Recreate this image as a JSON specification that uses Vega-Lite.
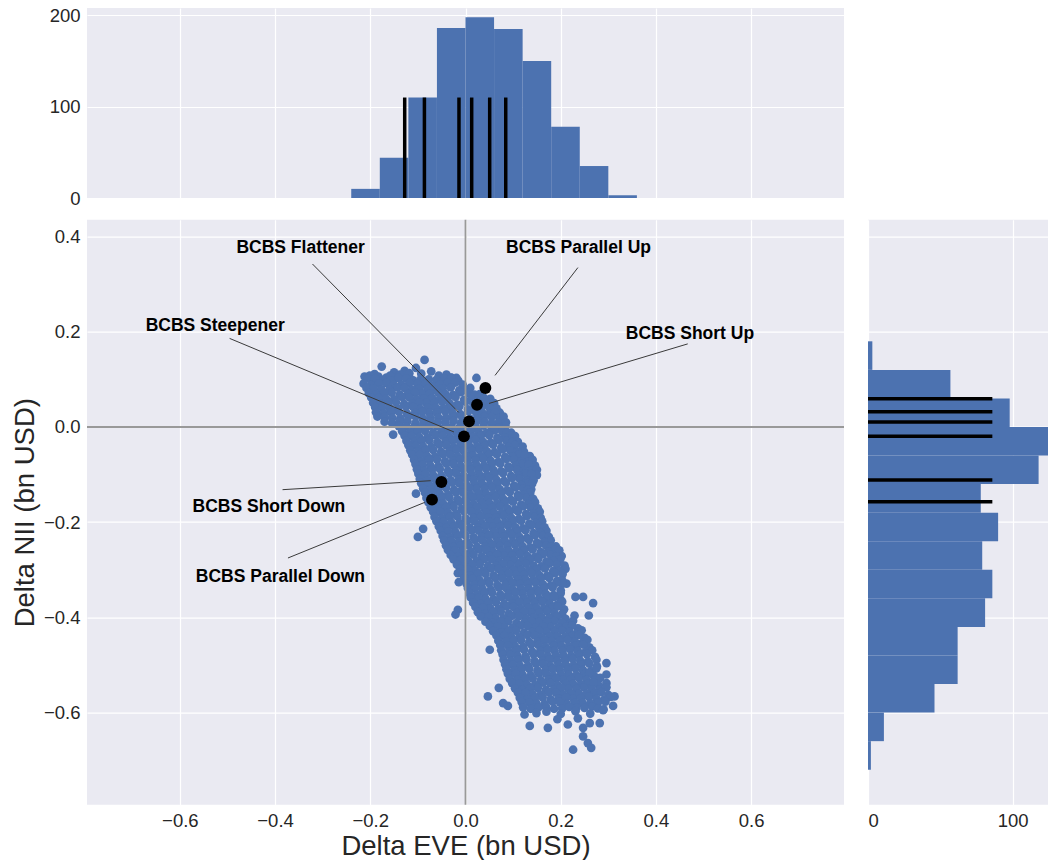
{
  "$schema": "https://vega.github.io/schema/vega-lite/v6.json",
  "background": "white",
  "padding": {"left": 11, "top": 6, "right": 0, "bottom": 0},
  "config": {
    "view": {"fill": "#EAEAF2", "stroke": null},
    "axis": {
      "domain": false,
      "ticks": false,
      "grid": true,
      "gridColor": "#ffffff",
      "gridWidth": 1.2,
      "labelFont": "Liberation Sans",
      "labelFontSize": 18.5,
      "labelColor": "#262626",
      "labelPadding": 7,
      "titleFont": "Liberation Sans",
      "titleFontSize": 27.5,
      "titleFontWeight": "normal",
      "titleColor": "#262626"
    }
  },
  "datasets": {
    "eveBins": [
      {"start": -0.24, "end": -0.18, "count": 10},
      {"start": -0.18, "end": -0.12, "count": 44},
      {"start": -0.12, "end": -0.06, "count": 110},
      {"start": -0.06, "end": 0.0, "count": 186},
      {"start": 0.0, "end": 0.06, "count": 198},
      {"start": 0.06, "end": 0.12, "count": 185},
      {"start": 0.12, "end": 0.18, "count": 150},
      {"start": 0.18, "end": 0.24, "count": 78},
      {"start": 0.24, "end": 0.30, "count": 35},
      {"start": 0.30, "end": 0.36, "count": 3}
    ],
    "niiBins": [
      {"start": 0.12, "end": 0.18, "count": 3},
      {"start": 0.06, "end": 0.12, "count": 57},
      {"start": 0.0, "end": 0.06, "count": 98},
      {"start": -0.06, "end": 0.0, "count": 128},
      {"start": -0.12, "end": -0.06, "count": 118},
      {"start": -0.18, "end": -0.12, "count": 78},
      {"start": -0.24, "end": -0.18, "count": 90},
      {"start": -0.30, "end": -0.24, "count": 79},
      {"start": -0.36, "end": -0.30, "count": 86},
      {"start": -0.42, "end": -0.36, "count": 81},
      {"start": -0.48, "end": -0.42, "count": 62},
      {"start": -0.54, "end": -0.48, "count": 62},
      {"start": -0.60, "end": -0.54, "count": 46},
      {"start": -0.66, "end": -0.60, "count": 11},
      {"start": -0.72, "end": -0.66, "count": 2}
    ],
    "zero": [{"origin": 0}],
    "scenarios": [
      {"name": "BCBS Parallel Up", "eve": 0.0418, "nii": 0.0819, "hist_eve": 0.0845, "hist_nii": 0.0595, "label_eve": 0.2374, "label_nii": 0.3664, "line_eve": 0.2361, "line_nii": 0.3349, "tip_eve": 0.0620, "tip_nii": 0.1084},
      {"name": "BCBS Short Up", "eve": 0.0242, "nii": 0.0468, "hist_eve": 0.0508, "hist_nii": 0.0321, "label_eve": 0.4714, "label_nii": 0.1847, "line_eve": 0.4668, "line_nii": 0.1746, "tip_eve": 0.0494, "tip_nii": 0.0495},
      {"name": "BCBS Flattener", "eve": 0.0074, "nii": 0.0118, "hist_eve": 0.0130, "hist_nii": 0.0105, "label_eve": -0.3464, "label_nii": 0.3664, "line_eve": -0.3214, "line_nii": 0.3424, "tip_eve": -0.0143, "tip_nii": 0.0307},
      {"name": "BCBS Steepener", "eve": -0.0032, "nii": -0.0197, "hist_eve": -0.0137, "hist_nii": -0.0197, "label_eve": -0.5258, "label_nii": 0.2011, "line_eve": -0.4954, "line_nii": 0.1861, "tip_eve": -0.0242, "tip_nii": -0.0105},
      {"name": "BCBS Short Down", "eve": -0.0506, "nii": -0.1155, "hist_eve": -0.0863, "hist_nii": -0.1113, "label_eve": -0.4130, "label_nii": -0.1794, "line_eve": -0.3843, "line_nii": -0.1317, "tip_eve": -0.0731, "tip_nii": -0.1128},
      {"name": "BCBS Parallel Down", "eve": -0.0704, "nii": -0.1527, "hist_eve": -0.1277, "hist_nii": -0.1569, "label_eve": -0.3887, "label_nii": -0.3256, "line_eve": -0.3729, "line_nii": -0.2752, "tip_eve": -0.0857, "tip_nii": -0.1584}
    ],
    "sims": [
      {"eve":-0.212,"nii":0.106},{"eve":-0.191,"nii":0.111},{"eve":-0.176,"nii":0.127},{"eve":-0.166,"nii":0.104},{"eve":-0.149,"nii":0.101},{"eve":-0.150,"nii":0.115},{"eve":-0.128,"nii":0.118},{"eve":-0.117,"nii":0.103},{"eve":-0.104,"nii":0.124},{"eve":-0.086,"nii":0.141},{"eve":-0.072,"nii":0.117},{"eve":-0.040,"nii":0.110},{"eve":-0.019,"nii":0.103},{"eve":0.023,"nii":0.103},
      {"eve":-0.201,"nii":0.108},{"eve":-0.183,"nii":0.106},{"eve":-0.158,"nii":0.108},{"eve":-0.138,"nii":0.110},{"eve":-0.093,"nii":0.112},{"eve":-0.056,"nii":0.108},{"eve":-0.030,"nii":0.104},{"eve":-0.118,"nii":0.113},
      {"eve":-0.205,"nii":0.102},{"eve":-0.174,"nii":0.099},{"eve":-0.140,"nii":0.103},{"eve":-0.110,"nii":0.098},{"eve":-0.077,"nii":0.100},{"eve":-0.045,"nii":0.101},{"eve":-0.015,"nii":0.097},
      {"eve":-0.190,"nii":0.101},{"eve":-0.157,"nii":0.098},{"eve":-0.125,"nii":0.102},{"eve":-0.094,"nii":0.100},{"eve":-0.061,"nii":0.099},{"eve":-0.030,"nii":0.103},
      {"eve":-0.214,"nii":0.091},{"eve":-0.198,"nii":0.088},{"eve":-0.166,"nii":0.092},{"eve":-0.135,"nii":0.089},{"eve":-0.101,"nii":0.090},{"eve":-0.069,"nii":0.087},{"eve":-0.038,"nii":0.092},{"eve":-0.006,"nii":0.089},
      {"eve":-0.182,"nii":0.091},{"eve":-0.151,"nii":0.088},{"eve":-0.118,"nii":0.092},{"eve":-0.085,"nii":0.090},{"eve":-0.054,"nii":0.089},{"eve":-0.022,"nii":0.093},
      {"eve":-0.208,"nii":0.082},{"eve":-0.177,"nii":0.079},{"eve":-0.143,"nii":0.083},{"eve":-0.113,"nii":0.078},{"eve":-0.080,"nii":0.080},{"eve":-0.048,"nii":0.081},{"eve":-0.013,"nii":0.077},{"eve":0.010,"nii":0.082},
      {"eve":-0.193,"nii":0.081},{"eve":-0.160,"nii":0.078},{"eve":-0.128,"nii":0.082},{"eve":-0.097,"nii":0.080},{"eve":-0.064,"nii":0.079},{"eve":-0.031,"nii":0.083},{"eve":-0.002,"nii":0.078},
      {"eve":-0.203,"nii":0.071},{"eve":-0.187,"nii":0.068},{"eve":-0.155,"nii":0.072},{"eve":-0.121,"nii":0.069},{"eve":-0.091,"nii":0.070},{"eve":-0.058,"nii":0.073},{"eve":-0.026,"nii":0.067},{"eve":0.007,"nii":0.071},{"eve":0.030,"nii":0.069},
      {"eve":-0.171,"nii":0.071},{"eve":-0.138,"nii":0.068},{"eve":-0.106,"nii":0.072},{"eve":-0.075,"nii":0.070},{"eve":-0.042,"nii":0.069},{"eve":-0.010,"nii":0.073},{"eve":0.019,"nii":0.068},
      {"eve":-0.198,"nii":0.062},{"eve":-0.167,"nii":0.059},{"eve":-0.133,"nii":0.063},{"eve":-0.103,"nii":0.058},{"eve":-0.070,"nii":0.060},{"eve":-0.038,"nii":0.061},{"eve":-0.003,"nii":0.057},{"eve":0.026,"nii":0.062},{"eve":0.052,"nii":0.059},
      {"eve":-0.183,"nii":0.061},{"eve":-0.150,"nii":0.058},{"eve":-0.118,"nii":0.062},{"eve":-0.087,"nii":0.060},{"eve":-0.054,"nii":0.059},{"eve":-0.021,"nii":0.063},{"eve":0.012,"nii":0.058},{"eve":0.039,"nii":0.061},
      {"eve":-0.194,"nii":0.051},{"eve":-0.178,"nii":0.048},{"eve":-0.146,"nii":0.052},{"eve":-0.112,"nii":0.049},{"eve":-0.082,"nii":0.050},{"eve":-0.049,"nii":0.053},{"eve":-0.017,"nii":0.047},{"eve":0.016,"nii":0.051},{"eve":0.045,"nii":0.048},{"eve":0.060,"nii":0.050},
      {"eve":-0.162,"nii":0.051},{"eve":-0.129,"nii":0.048},{"eve":-0.097,"nii":0.052},{"eve":-0.066,"nii":0.050},{"eve":-0.033,"nii":0.049},{"eve":0.000,"nii":0.053},{"eve":0.031,"nii":0.048},
      {"eve":-0.190,"nii":0.042},{"eve":-0.159,"nii":0.039},{"eve":-0.125,"nii":0.043},{"eve":-0.095,"nii":0.038},{"eve":-0.062,"nii":0.040},{"eve":-0.030,"nii":0.041},{"eve":0.005,"nii":0.037},{"eve":0.034,"nii":0.042},{"eve":0.065,"nii":0.039},
      {"eve":-0.175,"nii":0.041},{"eve":-0.142,"nii":0.038},{"eve":-0.110,"nii":0.042},{"eve":-0.079,"nii":0.040},{"eve":-0.046,"nii":0.039},{"eve":-0.013,"nii":0.043},{"eve":0.020,"nii":0.038},{"eve":0.050,"nii":0.041},
      {"eve":-0.188,"nii":0.031},{"eve":-0.172,"nii":0.028},{"eve":-0.140,"nii":0.032},{"eve":-0.106,"nii":0.029},{"eve":-0.076,"nii":0.030},{"eve":-0.043,"nii":0.033},{"eve":-0.011,"nii":0.027},{"eve":0.022,"nii":0.031},{"eve":0.051,"nii":0.028},{"eve":0.072,"nii":0.030},
      {"eve":-0.156,"nii":0.031},{"eve":-0.123,"nii":0.028},{"eve":-0.091,"nii":0.032},{"eve":-0.060,"nii":0.030},{"eve":-0.027,"nii":0.029},{"eve":0.006,"nii":0.033},{"eve":0.037,"nii":0.028},{"eve":0.062,"nii":0.031},
      {"eve":-0.185,"nii":0.022},{"eve":-0.154,"nii":0.019},{"eve":-0.120,"nii":0.023},{"eve":-0.090,"nii":0.018},{"eve":-0.057,"nii":0.020},{"eve":-0.025,"nii":0.021},{"eve":0.010,"nii":0.017},{"eve":0.039,"nii":0.022},{"eve":0.071,"nii":0.019},
      {"eve":-0.170,"nii":0.021},{"eve":-0.137,"nii":0.018},{"eve":-0.105,"nii":0.022},{"eve":-0.074,"nii":0.020},{"eve":-0.041,"nii":0.019},{"eve":-0.008,"nii":0.023},{"eve":0.025,"nii":0.018},{"eve":0.055,"nii":0.021},{"eve":0.080,"nii":0.022},
      {"eve":-0.170,"nii":0.011},{"eve":-0.154,"nii":0.008},{"eve":-0.122,"nii":0.012},{"eve":-0.088,"nii":0.009},{"eve":-0.058,"nii":0.010},{"eve":-0.025,"nii":0.013},{"eve":0.007,"nii":0.007},{"eve":0.040,"nii":0.011},{"eve":0.069,"nii":0.008},{"eve":0.085,"nii":0.010},
      {"eve":-0.138,"nii":0.011},{"eve":-0.105,"nii":0.008},{"eve":-0.073,"nii":0.012},{"eve":-0.042,"nii":0.010},{"eve":-0.009,"nii":0.009},{"eve":0.024,"nii":0.013},{"eve":0.055,"nii":0.008},
      {"eve":-0.140,"nii":0.002},{"eve":-0.109,"nii":-0.001},{"eve":-0.075,"nii":0.003},{"eve":-0.045,"nii":-0.002},{"eve":-0.012,"nii":0.000},{"eve":0.020,"nii":0.001},{"eve":0.055,"nii":-0.003},{"eve":0.084,"nii":0.002},{"eve":-0.152,"nii":-0.016},
      {"eve":-0.125,"nii":0.001},{"eve":-0.092,"nii":-0.002},{"eve":-0.060,"nii":0.002},{"eve":-0.029,"nii":0.000},{"eve":0.004,"nii":-0.001},{"eve":0.038,"nii":0.003},{"eve":0.070,"nii":-0.002},
      {"eve":-0.133,"nii":-0.009},{"eve":-0.117,"nii":-0.012},{"eve":-0.085,"nii":-0.008},{"eve":-0.051,"nii":-0.011},{"eve":-0.021,"nii":-0.010},{"eve":0.012,"nii":-0.007},{"eve":0.044,"nii":-0.013},{"eve":0.077,"nii":-0.009},{"eve":0.096,"nii":-0.012},
      {"eve":-0.101,"nii":-0.009},{"eve":-0.068,"nii":-0.012},{"eve":-0.036,"nii":-0.008},{"eve":-0.005,"nii":-0.010},{"eve":0.028,"nii":-0.011},{"eve":0.061,"nii":-0.007},{"eve":0.087,"nii":-0.012},
      {"eve":-0.128,"nii":-0.018},{"eve":-0.097,"nii":-0.021},{"eve":-0.063,"nii":-0.017},{"eve":-0.033,"nii":-0.022},{"eve":0.000,"nii":-0.020},{"eve":0.032,"nii":-0.019},{"eve":0.067,"nii":-0.023},{"eve":0.096,"nii":-0.018},
      {"eve":-0.113,"nii":-0.019},{"eve":-0.080,"nii":-0.022},{"eve":-0.048,"nii":-0.018},{"eve":-0.017,"nii":-0.020},{"eve":0.016,"nii":-0.021},{"eve":0.050,"nii":-0.017},{"eve":0.082,"nii":-0.022},{"eve":0.104,"nii":-0.019},
      {"eve":-0.124,"nii":-0.029},{"eve":-0.108,"nii":-0.032},{"eve":-0.076,"nii":-0.028},{"eve":-0.042,"nii":-0.031},{"eve":-0.012,"nii":-0.030},{"eve":0.021,"nii":-0.027},{"eve":0.053,"nii":-0.033},{"eve":0.086,"nii":-0.029},{"eve":0.110,"nii":-0.031},
      {"eve":-0.092,"nii":-0.029},{"eve":-0.059,"nii":-0.032},{"eve":-0.027,"nii":-0.028},{"eve":0.005,"nii":-0.030},{"eve":0.037,"nii":-0.031},{"eve":0.070,"nii":-0.027},{"eve":0.098,"nii":-0.032},
      {"eve":-0.120,"nii":-0.038},{"eve":-0.089,"nii":-0.041},{"eve":-0.055,"nii":-0.037},{"eve":-0.025,"nii":-0.042},{"eve":0.008,"nii":-0.040},{"eve":0.040,"nii":-0.039},{"eve":0.075,"nii":-0.043},{"eve":0.104,"nii":-0.038},{"eve":0.120,"nii":-0.041},
      {"eve":-0.105,"nii":-0.039},{"eve":-0.072,"nii":-0.042},{"eve":-0.040,"nii":-0.038},{"eve":-0.009,"nii":-0.040},{"eve":0.024,"nii":-0.041},{"eve":0.058,"nii":-0.037},{"eve":0.090,"nii":-0.042},
      {"eve":-0.116,"nii":-0.049},{"eve":-0.100,"nii":-0.052},{"eve":-0.068,"nii":-0.048},{"eve":-0.034,"nii":-0.051},{"eve":-0.004,"nii":-0.050},{"eve":0.029,"nii":-0.047},{"eve":0.061,"nii":-0.053},{"eve":0.094,"nii":-0.049},{"eve":0.123,"nii":-0.052},
      {"eve":-0.084,"nii":-0.049},{"eve":-0.051,"nii":-0.052},{"eve":-0.019,"nii":-0.048},{"eve":0.013,"nii":-0.050},{"eve":0.045,"nii":-0.051},{"eve":0.078,"nii":-0.047},{"eve":0.109,"nii":-0.052},
      {"eve":-0.112,"nii":-0.058},{"eve":-0.081,"nii":-0.061},{"eve":-0.047,"nii":-0.057},{"eve":-0.017,"nii":-0.062},{"eve":0.016,"nii":-0.060},{"eve":0.048,"nii":-0.059},{"eve":0.083,"nii":-0.063},{"eve":0.112,"nii":-0.058},{"eve":0.135,"nii":-0.061},
      {"eve":-0.097,"nii":-0.059},{"eve":-0.064,"nii":-0.062},{"eve":-0.032,"nii":-0.058},{"eve":0.000,"nii":-0.060},{"eve":0.032,"nii":-0.061},{"eve":0.066,"nii":-0.057},{"eve":0.098,"nii":-0.062},{"eve":0.124,"nii":-0.059},
      {"eve":-0.108,"nii":-0.069},{"eve":-0.092,"nii":-0.072},{"eve":-0.060,"nii":-0.068},{"eve":-0.026,"nii":-0.071},{"eve":0.004,"nii":-0.070},{"eve":0.037,"nii":-0.067},{"eve":0.069,"nii":-0.073},{"eve":0.102,"nii":-0.069},{"eve":0.131,"nii":-0.072},
      {"eve":-0.076,"nii":-0.069},{"eve":-0.043,"nii":-0.072},{"eve":-0.011,"nii":-0.068},{"eve":0.021,"nii":-0.070},{"eve":0.053,"nii":-0.071},{"eve":0.086,"nii":-0.067},{"eve":0.117,"nii":-0.072},{"eve":0.141,"nii":-0.069},
      {"eve":-0.105,"nii":-0.078},{"eve":-0.074,"nii":-0.081},{"eve":-0.040,"nii":-0.077},{"eve":-0.010,"nii":-0.082},{"eve":0.023,"nii":-0.080},{"eve":0.055,"nii":-0.079},{"eve":0.090,"nii":-0.083},{"eve":0.119,"nii":-0.078},{"eve":0.146,"nii":-0.081},
      {"eve":-0.090,"nii":-0.079},{"eve":-0.057,"nii":-0.082},{"eve":-0.025,"nii":-0.078},{"eve":0.007,"nii":-0.080},{"eve":0.039,"nii":-0.081},{"eve":0.073,"nii":-0.077},{"eve":0.105,"nii":-0.082},{"eve":0.133,"nii":-0.079},
      {"eve":-0.102,"nii":-0.089},{"eve":-0.086,"nii":-0.092},{"eve":-0.054,"nii":-0.088},{"eve":-0.020,"nii":-0.091},{"eve":0.010,"nii":-0.090},{"eve":0.043,"nii":-0.087},{"eve":0.075,"nii":-0.093},{"eve":0.108,"nii":-0.089},{"eve":0.137,"nii":-0.092},{"eve":0.150,"nii":-0.090},
      {"eve":-0.070,"nii":-0.089},{"eve":-0.037,"nii":-0.092},{"eve":-0.005,"nii":-0.088},{"eve":0.027,"nii":-0.090},{"eve":0.059,"nii":-0.091},{"eve":0.092,"nii":-0.087},{"eve":0.123,"nii":-0.092},
      {"eve":-0.099,"nii":-0.098},{"eve":-0.068,"nii":-0.101},{"eve":-0.034,"nii":-0.097},{"eve":-0.004,"nii":-0.102},{"eve":0.029,"nii":-0.100},{"eve":0.061,"nii":-0.099},{"eve":0.096,"nii":-0.103},{"eve":0.125,"nii":-0.098},{"eve":0.150,"nii":-0.101},
      {"eve":-0.084,"nii":-0.099},{"eve":-0.051,"nii":-0.102},{"eve":-0.019,"nii":-0.098},{"eve":0.013,"nii":-0.100},{"eve":0.045,"nii":-0.101},{"eve":0.079,"nii":-0.097},{"eve":0.111,"nii":-0.102},{"eve":0.138,"nii":-0.099},
      {"eve":-0.096,"nii":-0.109},{"eve":-0.080,"nii":-0.112},{"eve":-0.048,"nii":-0.108},{"eve":-0.014,"nii":-0.111},{"eve":0.016,"nii":-0.110},{"eve":0.049,"nii":-0.107},{"eve":0.081,"nii":-0.113},{"eve":0.114,"nii":-0.109},{"eve":0.143,"nii":-0.112},
      {"eve":-0.064,"nii":-0.109},{"eve":-0.031,"nii":-0.112},{"eve":0.001,"nii":-0.108},{"eve":0.033,"nii":-0.110},{"eve":0.065,"nii":-0.111},{"eve":0.098,"nii":-0.107},{"eve":0.129,"nii":-0.112},
      {"eve":-0.093,"nii":-0.118},{"eve":-0.062,"nii":-0.121},{"eve":-0.028,"nii":-0.117},{"eve":0.002,"nii":-0.122},{"eve":0.035,"nii":-0.120},{"eve":0.067,"nii":-0.119},{"eve":0.102,"nii":-0.123},{"eve":0.131,"nii":-0.118},
      {"eve":-0.078,"nii":-0.119},{"eve":-0.045,"nii":-0.122},{"eve":-0.013,"nii":-0.118},{"eve":0.019,"nii":-0.120},{"eve":0.051,"nii":-0.121},{"eve":0.085,"nii":-0.117},{"eve":0.117,"nii":-0.122},{"eve":0.140,"nii":-0.119},
      {"eve":-0.089,"nii":-0.129},{"eve":-0.073,"nii":-0.132},{"eve":-0.041,"nii":-0.128},{"eve":-0.007,"nii":-0.131},{"eve":0.023,"nii":-0.130},{"eve":0.056,"nii":-0.127},{"eve":0.088,"nii":-0.133},{"eve":0.121,"nii":-0.129},{"eve":0.138,"nii":-0.131},
      {"eve":-0.057,"nii":-0.129},{"eve":-0.024,"nii":-0.132},{"eve":0.008,"nii":-0.128},{"eve":0.040,"nii":-0.130},{"eve":0.072,"nii":-0.131},{"eve":0.105,"nii":-0.127},{"eve":0.130,"nii":-0.132},
      {"eve":-0.085,"nii":-0.138},{"eve":-0.054,"nii":-0.141},{"eve":-0.020,"nii":-0.137},{"eve":0.010,"nii":-0.142},{"eve":0.043,"nii":-0.140},{"eve":0.075,"nii":-0.139},{"eve":0.110,"nii":-0.143},{"eve":0.136,"nii":-0.138},{"eve":-0.104,"nii":-0.140},
      {"eve":-0.070,"nii":-0.139},{"eve":-0.037,"nii":-0.142},{"eve":-0.005,"nii":-0.138},{"eve":0.027,"nii":-0.140},{"eve":0.059,"nii":-0.141},{"eve":0.093,"nii":-0.137},{"eve":0.123,"nii":-0.142},
      {"eve":-0.082,"nii":-0.149},{"eve":-0.066,"nii":-0.152},{"eve":-0.034,"nii":-0.148},{"eve":0.000,"nii":-0.151},{"eve":0.030,"nii":-0.150},{"eve":0.063,"nii":-0.147},{"eve":0.095,"nii":-0.153},{"eve":0.128,"nii":-0.149},{"eve":0.142,"nii":-0.151},
      {"eve":-0.050,"nii":-0.149},{"eve":-0.017,"nii":-0.152},{"eve":0.015,"nii":-0.148},{"eve":0.047,"nii":-0.150},{"eve":0.079,"nii":-0.151},{"eve":0.112,"nii":-0.147},
      {"eve":-0.078,"nii":-0.158},{"eve":-0.047,"nii":-0.161},{"eve":-0.013,"nii":-0.157},{"eve":0.017,"nii":-0.162},{"eve":0.050,"nii":-0.160},{"eve":0.082,"nii":-0.159},{"eve":0.117,"nii":-0.163},{"eve":0.146,"nii":-0.158},
      {"eve":-0.063,"nii":-0.159},{"eve":-0.030,"nii":-0.162},{"eve":0.002,"nii":-0.158},{"eve":0.034,"nii":-0.160},{"eve":0.066,"nii":-0.161},{"eve":0.100,"nii":-0.157},{"eve":0.132,"nii":-0.162},
      {"eve":-0.073,"nii":-0.169},{"eve":-0.057,"nii":-0.172},{"eve":-0.025,"nii":-0.168},{"eve":0.009,"nii":-0.171},{"eve":0.039,"nii":-0.170},{"eve":0.072,"nii":-0.167},{"eve":0.104,"nii":-0.173},{"eve":0.137,"nii":-0.169},{"eve":0.152,"nii":-0.171},
      {"eve":-0.041,"nii":-0.169},{"eve":-0.008,"nii":-0.172},{"eve":0.024,"nii":-0.168},{"eve":0.056,"nii":-0.170},{"eve":0.088,"nii":-0.171},{"eve":0.121,"nii":-0.167},
      {"eve":-0.068,"nii":-0.178},{"eve":-0.037,"nii":-0.181},{"eve":-0.003,"nii":-0.177},{"eve":0.027,"nii":-0.182},{"eve":0.060,"nii":-0.180},{"eve":0.092,"nii":-0.179},{"eve":0.127,"nii":-0.183},{"eve":0.156,"nii":-0.178},
      {"eve":-0.053,"nii":-0.179},{"eve":-0.020,"nii":-0.182},{"eve":0.012,"nii":-0.178},{"eve":0.044,"nii":-0.180},{"eve":0.076,"nii":-0.181},{"eve":0.110,"nii":-0.177},{"eve":0.142,"nii":-0.182},
      {"eve":-0.065,"nii":-0.189},{"eve":-0.049,"nii":-0.192},{"eve":-0.017,"nii":-0.188},{"eve":0.017,"nii":-0.191},{"eve":0.047,"nii":-0.190},{"eve":0.080,"nii":-0.187},{"eve":0.112,"nii":-0.193},{"eve":0.145,"nii":-0.189},{"eve":0.158,"nii":-0.191},
      {"eve":-0.033,"nii":-0.189},{"eve":0.000,"nii":-0.192},{"eve":0.032,"nii":-0.188},{"eve":0.064,"nii":-0.190},{"eve":0.096,"nii":-0.191},{"eve":0.129,"nii":-0.187},
      {"eve":-0.061,"nii":-0.198},{"eve":-0.030,"nii":-0.201},{"eve":0.004,"nii":-0.197},{"eve":0.034,"nii":-0.202},{"eve":0.067,"nii":-0.200},{"eve":0.099,"nii":-0.199},{"eve":0.134,"nii":-0.203},{"eve":0.161,"nii":-0.198},
      {"eve":-0.046,"nii":-0.199},{"eve":-0.013,"nii":-0.202},{"eve":0.019,"nii":-0.198},{"eve":0.051,"nii":-0.200},{"eve":0.083,"nii":-0.201},{"eve":0.117,"nii":-0.197},{"eve":0.148,"nii":-0.202},
      {"eve":-0.056,"nii":-0.209},{"eve":-0.040,"nii":-0.212},{"eve":-0.008,"nii":-0.208},{"eve":0.026,"nii":-0.211},{"eve":0.056,"nii":-0.210},{"eve":0.089,"nii":-0.207},{"eve":0.121,"nii":-0.213},{"eve":0.154,"nii":-0.209},{"eve":0.166,"nii":-0.211},{"eve":-0.089,"nii":-0.214},
      {"eve":-0.024,"nii":-0.209},{"eve":0.009,"nii":-0.212},{"eve":0.041,"nii":-0.208},{"eve":0.073,"nii":-0.210},{"eve":0.105,"nii":-0.211},{"eve":0.138,"nii":-0.207},
      {"eve":-0.052,"nii":-0.218},{"eve":-0.021,"nii":-0.221},{"eve":0.013,"nii":-0.217},{"eve":0.043,"nii":-0.222},{"eve":0.076,"nii":-0.220},{"eve":0.108,"nii":-0.219},{"eve":0.143,"nii":-0.223},{"eve":0.170,"nii":-0.218},
      {"eve":-0.037,"nii":-0.219},{"eve":-0.004,"nii":-0.222},{"eve":0.028,"nii":-0.218},{"eve":0.060,"nii":-0.220},{"eve":0.092,"nii":-0.221},{"eve":0.126,"nii":-0.217},{"eve":0.157,"nii":-0.222},
      {"eve":-0.048,"nii":-0.229},{"eve":-0.032,"nii":-0.232},{"eve":0.000,"nii":-0.228},{"eve":0.034,"nii":-0.231},{"eve":0.064,"nii":-0.230},{"eve":0.097,"nii":-0.227},{"eve":0.129,"nii":-0.233},{"eve":0.162,"nii":-0.229},{"eve":0.175,"nii":-0.231},{"eve":-0.100,"nii":-0.231},
      {"eve":-0.016,"nii":-0.229},{"eve":0.017,"nii":-0.232},{"eve":0.049,"nii":-0.228},{"eve":0.081,"nii":-0.230},{"eve":0.113,"nii":-0.231},{"eve":0.146,"nii":-0.227},
      {"eve":-0.045,"nii":-0.238},{"eve":-0.014,"nii":-0.241},{"eve":0.020,"nii":-0.237},{"eve":0.050,"nii":-0.242},{"eve":0.083,"nii":-0.240},{"eve":0.115,"nii":-0.239},{"eve":0.150,"nii":-0.243},{"eve":0.179,"nii":-0.238},
      {"eve":-0.030,"nii":-0.239},{"eve":0.003,"nii":-0.242},{"eve":0.035,"nii":-0.238},{"eve":0.067,"nii":-0.240},{"eve":0.099,"nii":-0.241},{"eve":0.133,"nii":-0.237},{"eve":0.165,"nii":-0.242},
      {"eve":-0.041,"nii":-0.249},{"eve":-0.025,"nii":-0.252},{"eve":0.007,"nii":-0.248},{"eve":0.041,"nii":-0.251},{"eve":0.071,"nii":-0.250},{"eve":0.104,"nii":-0.247},{"eve":0.136,"nii":-0.253},{"eve":0.169,"nii":-0.249},{"eve":0.190,"nii":-0.251},
      {"eve":-0.009,"nii":-0.249},{"eve":0.024,"nii":-0.252},{"eve":0.056,"nii":-0.248},{"eve":0.088,"nii":-0.250},{"eve":0.120,"nii":-0.251},{"eve":0.153,"nii":-0.247},{"eve":0.180,"nii":-0.252},
      {"eve":-0.037,"nii":-0.258},{"eve":-0.006,"nii":-0.261},{"eve":0.028,"nii":-0.257},{"eve":0.058,"nii":-0.262},{"eve":0.091,"nii":-0.260},{"eve":0.123,"nii":-0.259},{"eve":0.158,"nii":-0.263},{"eve":0.187,"nii":-0.258},
      {"eve":-0.022,"nii":-0.259},{"eve":0.011,"nii":-0.262},{"eve":0.043,"nii":-0.258},{"eve":0.075,"nii":-0.260},{"eve":0.107,"nii":-0.261},{"eve":0.141,"nii":-0.257},{"eve":0.173,"nii":-0.262},{"eve":0.197,"nii":-0.259},
      {"eve":-0.031,"nii":-0.269},{"eve":-0.015,"nii":-0.272},{"eve":0.017,"nii":-0.268},{"eve":0.051,"nii":-0.271},{"eve":0.081,"nii":-0.270},{"eve":0.114,"nii":-0.267},{"eve":0.146,"nii":-0.273},{"eve":0.179,"nii":-0.269},{"eve":0.202,"nii":-0.271},
      {"eve":0.001,"nii":-0.269},{"eve":0.034,"nii":-0.272},{"eve":0.066,"nii":-0.268},{"eve":0.098,"nii":-0.270},{"eve":0.130,"nii":-0.271},{"eve":0.163,"nii":-0.267},{"eve":0.191,"nii":-0.272},
      {"eve":-0.025,"nii":-0.278},{"eve":0.006,"nii":-0.281},{"eve":0.040,"nii":-0.277},{"eve":0.070,"nii":-0.282},{"eve":0.103,"nii":-0.280},{"eve":0.135,"nii":-0.279},{"eve":0.170,"nii":-0.283},{"eve":0.199,"nii":-0.278},
      {"eve":-0.010,"nii":-0.279},{"eve":0.023,"nii":-0.282},{"eve":0.055,"nii":-0.278},{"eve":0.087,"nii":-0.280},{"eve":0.119,"nii":-0.281},{"eve":0.153,"nii":-0.277},{"eve":0.185,"nii":-0.282},
      {"eve":-0.018,"nii":-0.289},{"eve":-0.002,"nii":-0.292},{"eve":0.030,"nii":-0.288},{"eve":0.064,"nii":-0.291},{"eve":0.094,"nii":-0.290},{"eve":0.127,"nii":-0.287},{"eve":0.159,"nii":-0.293},{"eve":0.192,"nii":-0.289},{"eve":0.208,"nii":-0.291},
      {"eve":0.014,"nii":-0.289},{"eve":0.047,"nii":-0.292},{"eve":0.079,"nii":-0.288},{"eve":0.111,"nii":-0.290},{"eve":0.143,"nii":-0.291},{"eve":0.176,"nii":-0.287},
      {"eve":-0.011,"nii":-0.298},{"eve":0.020,"nii":-0.301},{"eve":0.054,"nii":-0.297},{"eve":0.084,"nii":-0.302},{"eve":0.117,"nii":-0.300},{"eve":0.149,"nii":-0.299},{"eve":0.184,"nii":-0.303},{"eve":0.210,"nii":-0.298},{"eve":-0.016,"nii":-0.307},
      {"eve":0.005,"nii":-0.299},{"eve":0.037,"nii":-0.302},{"eve":0.069,"nii":-0.298},{"eve":0.101,"nii":-0.300},{"eve":0.133,"nii":-0.301},{"eve":0.167,"nii":-0.297},{"eve":0.197,"nii":-0.302},
      {"eve":-0.006,"nii":-0.309},{"eve":0.010,"nii":-0.312},{"eve":0.042,"nii":-0.308},{"eve":0.076,"nii":-0.311},{"eve":0.106,"nii":-0.310},{"eve":0.139,"nii":-0.307},{"eve":0.171,"nii":-0.313},{"eve":0.204,"nii":-0.309},
      {"eve":0.026,"nii":-0.309},{"eve":0.059,"nii":-0.312},{"eve":0.091,"nii":-0.308},{"eve":0.123,"nii":-0.310},{"eve":0.155,"nii":-0.311},{"eve":0.188,"nii":-0.307},
      {"eve":-0.002,"nii":-0.318},{"eve":0.029,"nii":-0.321},{"eve":0.063,"nii":-0.317},{"eve":0.093,"nii":-0.322},{"eve":0.126,"nii":-0.320},{"eve":0.158,"nii":-0.319},{"eve":0.193,"nii":-0.323},{"eve":-0.014,"nii":-0.326},{"eve":0.212,"nii":-0.329},
      {"eve":0.014,"nii":-0.319},{"eve":0.046,"nii":-0.322},{"eve":0.078,"nii":-0.318},{"eve":0.110,"nii":-0.320},{"eve":0.142,"nii":-0.321},{"eve":0.176,"nii":-0.317},{"eve":0.203,"nii":-0.322},
      {"eve":0.002,"nii":-0.329},{"eve":0.018,"nii":-0.332},{"eve":0.050,"nii":-0.328},{"eve":0.084,"nii":-0.331},{"eve":0.114,"nii":-0.330},{"eve":0.147,"nii":-0.327},{"eve":0.179,"nii":-0.333},{"eve":0.203,"nii":-0.329},
      {"eve":0.034,"nii":-0.329},{"eve":0.067,"nii":-0.332},{"eve":0.099,"nii":-0.328},{"eve":0.131,"nii":-0.330},{"eve":0.163,"nii":-0.331},{"eve":0.191,"nii":-0.327},
      {"eve":0.005,"nii":-0.338},{"eve":0.036,"nii":-0.341},{"eve":0.070,"nii":-0.337},{"eve":0.100,"nii":-0.342},{"eve":0.133,"nii":-0.340},{"eve":0.165,"nii":-0.339},{"eve":0.200,"nii":-0.343},
      {"eve":0.020,"nii":-0.339},{"eve":0.053,"nii":-0.342},{"eve":0.085,"nii":-0.338},{"eve":0.117,"nii":-0.340},{"eve":0.149,"nii":-0.341},{"eve":0.183,"nii":-0.337},
      {"eve":0.008,"nii":-0.349},{"eve":0.024,"nii":-0.352},{"eve":0.056,"nii":-0.348},{"eve":0.090,"nii":-0.351},{"eve":0.120,"nii":-0.350},{"eve":0.153,"nii":-0.347},{"eve":0.185,"nii":-0.353},{"eve":0.200,"nii":-0.349},
      {"eve":0.040,"nii":-0.349},{"eve":0.073,"nii":-0.352},{"eve":0.105,"nii":-0.348},{"eve":0.137,"nii":-0.350},{"eve":0.169,"nii":-0.351},
      {"eve":0.011,"nii":-0.358},{"eve":0.042,"nii":-0.361},{"eve":0.076,"nii":-0.357},{"eve":0.106,"nii":-0.362},{"eve":0.139,"nii":-0.360},{"eve":0.171,"nii":-0.359},{"eve":0.200,"nii":-0.363},{"eve":0.231,"nii":-0.357},{"eve":0.247,"nii":-0.357},
      {"eve":0.027,"nii":-0.359},{"eve":0.059,"nii":-0.362},{"eve":0.091,"nii":-0.358},{"eve":0.123,"nii":-0.360},{"eve":0.155,"nii":-0.361},{"eve":0.186,"nii":-0.357},
      {"eve":0.016,"nii":-0.369},{"eve":0.032,"nii":-0.372},{"eve":0.064,"nii":-0.368},{"eve":0.098,"nii":-0.371},{"eve":0.128,"nii":-0.370},{"eve":0.161,"nii":-0.367},{"eve":0.193,"nii":-0.373},{"eve":0.268,"nii":-0.370},
      {"eve":0.048,"nii":-0.369},{"eve":0.081,"nii":-0.372},{"eve":0.113,"nii":-0.368},{"eve":0.145,"nii":-0.370},{"eve":0.177,"nii":-0.371},{"eve":0.203,"nii":-0.367},
      {"eve":0.021,"nii":-0.378},{"eve":0.052,"nii":-0.381},{"eve":0.086,"nii":-0.377},{"eve":0.116,"nii":-0.382},{"eve":0.149,"nii":-0.380},{"eve":0.181,"nii":-0.379},{"eve":0.207,"nii":-0.383},{"eve":-0.016,"nii":-0.384},
      {"eve":0.037,"nii":-0.379},{"eve":0.069,"nii":-0.382},{"eve":0.101,"nii":-0.378},{"eve":0.133,"nii":-0.380},{"eve":0.165,"nii":-0.381},{"eve":0.194,"nii":-0.377},
      {"eve":0.026,"nii":-0.389},{"eve":0.042,"nii":-0.392},{"eve":0.074,"nii":-0.388},{"eve":0.108,"nii":-0.391},{"eve":0.138,"nii":-0.390},{"eve":0.171,"nii":-0.387},{"eve":0.203,"nii":-0.393},{"eve":-0.021,"nii":-0.394},
      {"eve":0.058,"nii":-0.389},{"eve":0.091,"nii":-0.392},{"eve":0.123,"nii":-0.388},{"eve":0.155,"nii":-0.390},{"eve":0.187,"nii":-0.391},
      {"eve":0.032,"nii":-0.398},{"eve":0.063,"nii":-0.401},{"eve":0.097,"nii":-0.397},{"eve":0.127,"nii":-0.402},{"eve":0.160,"nii":-0.400},{"eve":0.192,"nii":-0.399},{"eve":0.210,"nii":-0.403},{"eve":0.229,"nii":-0.396},{"eve":0.259,"nii":-0.396},
      {"eve":0.048,"nii":-0.399},{"eve":0.080,"nii":-0.402},{"eve":0.112,"nii":-0.398},{"eve":0.144,"nii":-0.400},{"eve":0.176,"nii":-0.401},
      {"eve":0.042,"nii":-0.409},{"eve":0.058,"nii":-0.412},{"eve":0.090,"nii":-0.408},{"eve":0.124,"nii":-0.411},{"eve":0.154,"nii":-0.410},{"eve":0.187,"nii":-0.407},{"eve":0.219,"nii":-0.413},
      {"eve":0.074,"nii":-0.409},{"eve":0.107,"nii":-0.412},{"eve":0.139,"nii":-0.408},{"eve":0.171,"nii":-0.410},{"eve":0.203,"nii":-0.411},{"eve":0.226,"nii":-0.407},
      {"eve":0.051,"nii":-0.418},{"eve":0.082,"nii":-0.421},{"eve":0.116,"nii":-0.417},{"eve":0.146,"nii":-0.422},{"eve":0.179,"nii":-0.420},{"eve":0.211,"nii":-0.419},{"eve":0.236,"nii":-0.423},
      {"eve":0.067,"nii":-0.419},{"eve":0.099,"nii":-0.422},{"eve":0.131,"nii":-0.418},{"eve":0.163,"nii":-0.420},{"eve":0.195,"nii":-0.421},{"eve":0.224,"nii":-0.417},
      {"eve":0.058,"nii":-0.429},{"eve":0.074,"nii":-0.432},{"eve":0.106,"nii":-0.428},{"eve":0.140,"nii":-0.431},{"eve":0.170,"nii":-0.430},{"eve":0.203,"nii":-0.427},{"eve":0.235,"nii":-0.433},
      {"eve":0.090,"nii":-0.429},{"eve":0.123,"nii":-0.432},{"eve":0.155,"nii":-0.428},{"eve":0.187,"nii":-0.430},{"eve":0.219,"nii":-0.431},{"eve":0.244,"nii":-0.427},
      {"eve":0.065,"nii":-0.438},{"eve":0.096,"nii":-0.441},{"eve":0.130,"nii":-0.437},{"eve":0.160,"nii":-0.442},{"eve":0.193,"nii":-0.440},{"eve":0.225,"nii":-0.439},{"eve":0.250,"nii":-0.443},
      {"eve":0.081,"nii":-0.439},{"eve":0.113,"nii":-0.442},{"eve":0.145,"nii":-0.438},{"eve":0.177,"nii":-0.440},{"eve":0.209,"nii":-0.441},{"eve":0.238,"nii":-0.437},
      {"eve":0.069,"nii":-0.449},{"eve":0.085,"nii":-0.452},{"eve":0.117,"nii":-0.448},{"eve":0.151,"nii":-0.451},{"eve":0.181,"nii":-0.450},{"eve":0.214,"nii":-0.447},{"eve":0.246,"nii":-0.453},
      {"eve":0.101,"nii":-0.449},{"eve":0.134,"nii":-0.452},{"eve":0.166,"nii":-0.448},{"eve":0.198,"nii":-0.450},{"eve":0.230,"nii":-0.451},{"eve":0.256,"nii":-0.447},
      {"eve":0.073,"nii":-0.458},{"eve":0.104,"nii":-0.461},{"eve":0.138,"nii":-0.457},{"eve":0.168,"nii":-0.462},{"eve":0.201,"nii":-0.460},{"eve":0.233,"nii":-0.459},{"eve":0.260,"nii":-0.463},{"eve":0.051,"nii":-0.468},
      {"eve":0.089,"nii":-0.459},{"eve":0.121,"nii":-0.462},{"eve":0.153,"nii":-0.458},{"eve":0.185,"nii":-0.460},{"eve":0.217,"nii":-0.461},{"eve":0.247,"nii":-0.457},
      {"eve":0.075,"nii":-0.469},{"eve":0.091,"nii":-0.472},{"eve":0.123,"nii":-0.468},{"eve":0.157,"nii":-0.471},{"eve":0.187,"nii":-0.470},{"eve":0.220,"nii":-0.467},{"eve":0.252,"nii":-0.473},{"eve":0.266,"nii":-0.469},
      {"eve":0.107,"nii":-0.469},{"eve":0.140,"nii":-0.472},{"eve":0.172,"nii":-0.468},{"eve":0.204,"nii":-0.470},{"eve":0.236,"nii":-0.471},
      {"eve":0.078,"nii":-0.478},{"eve":0.109,"nii":-0.481},{"eve":0.143,"nii":-0.477},{"eve":0.173,"nii":-0.482},{"eve":0.206,"nii":-0.480},{"eve":0.238,"nii":-0.479},{"eve":0.272,"nii":-0.483},
      {"eve":0.094,"nii":-0.479},{"eve":0.126,"nii":-0.482},{"eve":0.158,"nii":-0.478},{"eve":0.190,"nii":-0.480},{"eve":0.222,"nii":-0.481},{"eve":0.255,"nii":-0.477},
      {"eve":0.080,"nii":-0.489},{"eve":0.096,"nii":-0.492},{"eve":0.128,"nii":-0.488},{"eve":0.162,"nii":-0.491},{"eve":0.192,"nii":-0.490},{"eve":0.225,"nii":-0.487},{"eve":0.257,"nii":-0.493},{"eve":0.275,"nii":-0.489},{"eve":0.296,"nii":-0.496},
      {"eve":0.112,"nii":-0.489},{"eve":0.145,"nii":-0.492},{"eve":0.177,"nii":-0.488},{"eve":0.209,"nii":-0.490},{"eve":0.241,"nii":-0.491},
      {"eve":0.083,"nii":-0.498},{"eve":0.114,"nii":-0.501},{"eve":0.148,"nii":-0.497},{"eve":0.178,"nii":-0.502},{"eve":0.211,"nii":-0.500},{"eve":0.243,"nii":-0.499},{"eve":0.276,"nii":-0.503},
      {"eve":0.099,"nii":-0.499},{"eve":0.131,"nii":-0.502},{"eve":0.163,"nii":-0.498},{"eve":0.195,"nii":-0.500},{"eve":0.227,"nii":-0.501},{"eve":0.260,"nii":-0.497},
      {"eve":0.086,"nii":-0.509},{"eve":0.102,"nii":-0.512},{"eve":0.134,"nii":-0.508},{"eve":0.168,"nii":-0.511},{"eve":0.198,"nii":-0.510},{"eve":0.231,"nii":-0.507},{"eve":0.263,"nii":-0.513},
      {"eve":0.118,"nii":-0.509},{"eve":0.151,"nii":-0.512},{"eve":0.183,"nii":-0.508},{"eve":0.215,"nii":-0.510},{"eve":0.247,"nii":-0.511},{"eve":0.275,"nii":-0.507},
      {"eve":0.089,"nii":-0.518},{"eve":0.120,"nii":-0.521},{"eve":0.154,"nii":-0.517},{"eve":0.184,"nii":-0.522},{"eve":0.217,"nii":-0.520},{"eve":0.249,"nii":-0.519},{"eve":0.270,"nii":-0.523},{"eve":0.296,"nii":-0.520},
      {"eve":0.105,"nii":-0.519},{"eve":0.137,"nii":-0.522},{"eve":0.169,"nii":-0.518},{"eve":0.201,"nii":-0.520},{"eve":0.233,"nii":-0.521},{"eve":0.260,"nii":-0.517},
      {"eve":0.093,"nii":-0.529},{"eve":0.109,"nii":-0.532},{"eve":0.141,"nii":-0.528},{"eve":0.175,"nii":-0.531},{"eve":0.205,"nii":-0.530},{"eve":0.238,"nii":-0.527},{"eve":0.270,"nii":-0.533},{"eve":0.296,"nii":-0.538},
      {"eve":0.125,"nii":-0.529},{"eve":0.158,"nii":-0.532},{"eve":0.190,"nii":-0.528},{"eve":0.222,"nii":-0.530},{"eve":0.254,"nii":-0.531},{"eve":0.283,"nii":-0.527},
      {"eve":0.098,"nii":-0.538},{"eve":0.129,"nii":-0.541},{"eve":0.163,"nii":-0.537},{"eve":0.193,"nii":-0.542},{"eve":0.226,"nii":-0.540},{"eve":0.258,"nii":-0.539},{"eve":0.280,"nii":-0.543},{"eve":0.070,"nii":-0.548},
      {"eve":0.113,"nii":-0.539},{"eve":0.146,"nii":-0.542},{"eve":0.178,"nii":-0.538},{"eve":0.210,"nii":-0.540},{"eve":0.242,"nii":-0.541},{"eve":0.269,"nii":-0.537},
      {"eve":0.104,"nii":-0.549},{"eve":0.120,"nii":-0.552},{"eve":0.152,"nii":-0.548},{"eve":0.186,"nii":-0.551},{"eve":0.216,"nii":-0.550},{"eve":0.249,"nii":-0.547},{"eve":0.281,"nii":-0.553},
      {"eve":0.136,"nii":-0.549},{"eve":0.169,"nii":-0.552},{"eve":0.201,"nii":-0.548},{"eve":0.233,"nii":-0.550},{"eve":0.265,"nii":-0.551},{"eve":0.296,"nii":-0.547},
      {"eve":0.110,"nii":-0.558},{"eve":0.141,"nii":-0.561},{"eve":0.175,"nii":-0.557},{"eve":0.205,"nii":-0.562},{"eve":0.238,"nii":-0.560},{"eve":0.270,"nii":-0.559},{"eve":0.300,"nii":-0.563},{"eve":0.047,"nii":-0.566},{"eve":0.313,"nii":-0.566},
      {"eve":0.126,"nii":-0.559},{"eve":0.158,"nii":-0.562},{"eve":0.190,"nii":-0.558},{"eve":0.222,"nii":-0.560},{"eve":0.254,"nii":-0.561},{"eve":0.285,"nii":-0.557},
      {"eve":0.114,"nii":-0.569},{"eve":0.130,"nii":-0.572},{"eve":0.162,"nii":-0.568},{"eve":0.196,"nii":-0.571},{"eve":0.226,"nii":-0.570},{"eve":0.259,"nii":-0.567},{"eve":0.291,"nii":-0.573},
      {"eve":0.146,"nii":-0.569},{"eve":0.179,"nii":-0.572},{"eve":0.211,"nii":-0.568},{"eve":0.243,"nii":-0.570},{"eve":0.275,"nii":-0.571},{"eve":0.305,"nii":-0.567},
      {"eve":0.118,"nii":-0.578},{"eve":0.149,"nii":-0.581},{"eve":0.183,"nii":-0.577},{"eve":0.213,"nii":-0.582},{"eve":0.246,"nii":-0.580},{"eve":0.278,"nii":-0.579},{"eve":0.079,"nii":-0.580},{"eve":0.089,"nii":-0.586},{"eve":0.310,"nii":-0.586},
      {"eve":0.134,"nii":-0.579},{"eve":0.166,"nii":-0.582},{"eve":0.198,"nii":-0.578},{"eve":0.230,"nii":-0.580},{"eve":0.262,"nii":-0.581},{"eve":0.294,"nii":-0.577},
      {"eve":0.121,"nii":-0.589},{"eve":0.137,"nii":-0.592},{"eve":0.169,"nii":-0.588},{"eve":0.203,"nii":-0.591},{"eve":0.233,"nii":-0.590},{"eve":0.266,"nii":-0.587},{"eve":0.290,"nii":-0.593},
      {"eve":0.153,"nii":-0.589},{"eve":0.186,"nii":-0.592},{"eve":0.218,"nii":-0.588},{"eve":0.250,"nii":-0.590},{"eve":0.278,"nii":-0.591},
      {"eve":0.124,"nii":-0.604},{"eve":0.149,"nii":-0.601},{"eve":0.170,"nii":-0.598},{"eve":0.200,"nii":-0.603},{"eve":0.231,"nii":-0.597},{"eve":0.262,"nii":-0.602},{"eve":0.289,"nii":-0.595},
      {"eve":0.193,"nii":-0.614},{"eve":0.236,"nii":-0.612},{"eve":0.135,"nii":-0.628},{"eve":0.173,"nii":-0.632},{"eve":0.215,"nii":-0.625},{"eve":0.247,"nii":-0.632},{"eve":0.261,"nii":-0.622},{"eve":0.282,"nii":-0.622},{"eve":0.247,"nii":-0.650},{"eve":0.257,"nii":-0.664},{"eve":0.264,"nii":-0.674},{"eve":0.226,"nii":-0.678}
    ]
  },
  "bounds": "flush",
  "columns": 2,
  "spacing": {"row": 21.7, "column": 24},
  "concat": [
    {
      "width": 757,
      "height": 190,
      "layer": [
        {
          "data": {"name": "eveBins"},
          "mark": {"type": "rect", "color": "#4C72B0"},
          "encoding": {
            "x": {"field": "start", "type": "quantitative", "title": null, "scale": {"domain": [-0.795, 0.795], "nice": false, "zero": false}, "axis": {"values": [-0.6, -0.4, -0.2, 0, 0.2, 0.4, 0.6], "labels": false}},
            "x2": {"field": "end"},
            "y": {"field": "count", "type": "quantitative", "title": null, "scale": {"domain": [0, 208], "nice": false}, "axis": {"values": [0, 100, 200], "format": "d"}},
            "y2": {"datum": 0}
          }
        },
        {
          "data": {"name": "scenarios"},
          "mark": {"type": "rule", "color": "#000000", "strokeWidth": 3.5},
          "encoding": {
            "x": {"field": "hist_eve", "type": "quantitative", "title": null, "scale": {"domain": [-0.795, 0.795], "nice": false, "zero": false}},
            "y": {"datum": 0, "type": "quantitative", "title": null},
            "y2": {"datum": 110}
          }
        }
      ]
    },
    {
      "width": 180,
      "height": 190,
      "view": {"fill": "#ffffff", "stroke": null},
      "data": {"values": []},
      "mark": "point"
    },
    {
      "width": 757,
      "height": 585,
      "layer": [
        {
          "data": {"name": "sims"},
          "mark": {"type": "circle", "color": "#4C72B0", "opacity": 1, "size": 76},
          "encoding": {
            "x": {"field": "eve", "type": "quantitative", "title": "Delta EVE (bn USD)", "scale": {"domain": [-0.795, 0.795], "nice": false, "zero": false}, "axis": {"values": [-0.6, -0.4, -0.2, 0, 0.2, 0.4, 0.6], "format": ".1f", "titlePadding": 2}},
            "y": {"field": "nii", "type": "quantitative", "title": "Delta NII (bn USD)", "scale": {"domain": [-0.7935, 0.4355], "nice": false, "zero": false}, "axis": {"values": [-0.6, -0.4, -0.2, 0, 0.2, 0.4], "format": ".1f", "titlePadding": 4}}
          }
        },
        {
          "data": {"name": "zero"},
          "mark": {"type": "rule", "color": "#999999", "strokeWidth": 1.8},
          "encoding": {"x": {"field": "origin", "type": "quantitative", "title": "Delta EVE (bn USD)", "scale": {"domain": [-0.795, 0.795], "nice": false, "zero": false}}}
        },
        {
          "data": {"name": "zero"},
          "mark": {"type": "rule", "color": "#999999", "strokeWidth": 1.8},
          "encoding": {"y": {"field": "origin", "type": "quantitative", "title": "Delta NII (bn USD)", "scale": {"domain": [-0.7935, 0.4355], "nice": false, "zero": false}}}
        },
        {
          "data": {"name": "scenarios"},
          "mark": {"type": "rule", "color": "#3a3a3a", "strokeWidth": 1},
          "encoding": {
            "x": {"field": "line_eve", "type": "quantitative", "title": "Delta EVE (bn USD)", "scale": {"domain": [-0.795, 0.795], "nice": false, "zero": false}},
            "y": {"field": "line_nii", "type": "quantitative", "title": "Delta NII (bn USD)", "scale": {"domain": [-0.7935, 0.4355], "nice": false, "zero": false}},
            "x2": {"field": "tip_eve"},
            "y2": {"field": "tip_nii"}
          }
        },
        {
          "data": {"name": "scenarios"},
          "mark": {"type": "circle", "color": "#000000", "opacity": 1, "size": 140},
          "encoding": {
            "x": {"field": "eve", "type": "quantitative", "title": "Delta EVE (bn USD)", "scale": {"domain": [-0.795, 0.795], "nice": false, "zero": false}},
            "y": {"field": "nii", "type": "quantitative", "title": "Delta NII (bn USD)", "scale": {"domain": [-0.7935, 0.4355], "nice": false, "zero": false}}
          }
        },
        {
          "data": {"name": "scenarios"},
          "mark": {"type": "text", "font": "Liberation Sans", "fontWeight": "bold", "fontSize": 17.5, "align": "center", "baseline": "alphabetic", "color": "#000000"},
          "encoding": {
            "x": {"field": "label_eve", "type": "quantitative", "title": "Delta EVE (bn USD)", "scale": {"domain": [-0.795, 0.795], "nice": false, "zero": false}},
            "y": {"field": "label_nii", "type": "quantitative", "title": "Delta NII (bn USD)", "scale": {"domain": [-0.7935, 0.4355], "nice": false, "zero": false}},
            "text": {"field": "name"}
          }
        }
      ]
    },
    {
      "width": 180,
      "height": 585,
      "layer": [
        {
          "data": {"name": "niiBins"},
          "mark": {"type": "rect", "color": "#4C72B0", "clip": true},
          "encoding": {
            "y": {"field": "start", "type": "quantitative", "title": null, "scale": {"domain": [-0.7935, 0.4355], "nice": false, "zero": false}, "axis": {"values": [-0.6, -0.4, -0.2, 0, 0.2, 0.4], "labels": false}},
            "y2": {"field": "end"},
            "x": {"field": "count", "type": "quantitative", "title": null, "scale": {"domain": [0, 124.5], "nice": false}, "axis": {"values": [0, 100], "format": "d"}},
            "x2": {"datum": 0}
          }
        },
        {
          "data": {"name": "scenarios"},
          "mark": {"type": "rule", "color": "#000000", "strokeWidth": 3.5},
          "encoding": {
            "y": {"field": "hist_nii", "type": "quantitative", "title": null, "scale": {"domain": [-0.7935, 0.4355], "nice": false, "zero": false}},
            "x": {"datum": 0, "type": "quantitative", "title": null},
            "x2": {"datum": 86}
          }
        }
      ]
    }
  ]
}
